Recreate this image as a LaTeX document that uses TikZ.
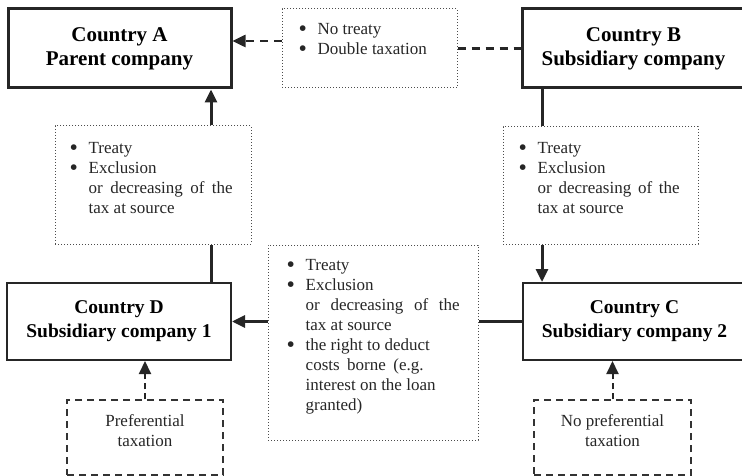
\documentclass[tikz,border=0pt]{standalone}
\usepackage{fontspec}
\setmainfont{Liberation Serif}
\usetikzlibrary{arrows.meta}
\newcommand{\ibul}{\makebox[19pt][l]{\smash{\raisebox{-1.5pt}{\scalebox{1.4}{\textbullet}}}}}
\newcommand{\iind}{\hspace*{19pt}}
\begin{document}
\begin{tikzpicture}[
    x=1pt,y=-1pt,
    every node/.style={font=\fontsize{17}{20}\selectfont},
    country/.style={draw=black!85, line width=3pt, minimum width=223pt, minimum height=79pt, align=center, font=\bfseries\fontsize{21}{24}\selectfont},
    subsid/.style={country, line width=2pt, minimum width=224pt, minimum height=77pt, font=\bfseries\fontsize{19.5}{24}\selectfont},
    note/.style={draw=black!70, dotted, line width=1pt},
    notetext/.style={anchor=north west, inner sep=0pt, align=left, text=black!85},
    pref/.style={draw=black!80, line width=1.5pt, dash pattern=on 7pt off 5pt},
    preftext/.style={anchor=north, inner sep=0pt, align=center, text=black!85},
    link/.style={draw=black!85, line width=3pt},
    tip/.style={-{Triangle[length=13pt,width=12pt]}}
]
    \path[use as bounding box, clip] (0,0) rectangle (742,476);

    \node[country] (A) at (119.5,48.5) {Country A\\Parent company};
    \node[country] (B) at (633.5,48.5) {Country B\\Subsidiary company};
    \node[subsid] (D) at (119,321.5) {Country D\\Subsidiary company 1};
    \node[subsid] (C) at (634.5,321.5) {Country C\\Subsidiary company 2};

    \node[note, minimum width=175, minimum height=79] (topnote) at (369.5,48.5) {};
    \node[note, minimum width=196, minimum height=118] (leftnote) at (153,185) {};
    \node[note, minimum width=195, minimum height=117] (rightnote) at (600.5,185.5) {};
    \node[note, minimum width=210, minimum height=195] (midnote) at (373,342.5) {};
    \node[pref, minimum width=156, minimum height=75] (prefD) at (145,437.5) {};
    \node[pref, minimum width=157, minimum height=75] (prefC) at (612.5,437.5) {};

    \node[notetext] (toptext) at ([shift={(17,15)}]topnote.north west)
        {\ibul No treaty\\ \ibul Double taxation};
    \node[notetext] (lefttext) at ([shift={(15,17)}]leftnote.north west)
        {\ibul Treaty\\ \ibul Exclusion\\ \iind\makebox[144pt][s]{or decreasing of the}\\ \iind tax at source};
    \node[notetext] (righttext) at ([shift={(16,16)}]rightnote.north west)
        {\ibul Treaty\\ \ibul Exclusion\\ \iind\makebox[142pt][s]{or decreasing of the}\\ \iind tax at source};
    \node[notetext] (midtext) at ([shift={(19,15)}]midnote.north west)
        {\ibul Treaty\\ \ibul Exclusion\\ \iind\makebox[154pt][s]{or decreasing of the}\\ \iind tax at source\\
         \ibul the right to deduct\\ \iind\makebox[118pt][s]{costs borne (e.g.}\\ \iind interest on the loan\\ \iind granted)};
    \node[preftext] (preftextD) at ([yshift=-15pt]prefD.north) {Preferential\\taxation};
    \node[preftext] (preftextC) at ([yshift=-15pt]prefC.north) {No preferential\\taxation};

    \coordinate (laneL) at (211,0);
    \coordinate (laneR) at (542,0);
    \coordinate (rowT) at (0,41);

    \draw[link, line width=2.5pt, dash pattern=on 8pt off 6pt, tip] (topnote.west |- rowT) -- (A.east |- rowT);
    \draw[link, line width=2.5pt, dash pattern=on 8pt off 6pt] (topnote.east) -- (B.west |- topnote.east);
    \draw[link, tip] (leftnote.north -| laneL) -- (A.south -| laneL);
    \draw[link] (D.north -| laneL) -- (leftnote.south -| laneL);
    \draw[link] (B.south -| laneR) -- (rightnote.north -| laneR);
    \draw[link, tip] (rightnote.south -| laneR) -- (C.north -| laneR);
    \draw[link, tip] (midnote.west |- D.east) -- (D.east);
    \draw[link] (C.west) -- (midnote.east |- C.west);
    \draw[link, line width=2pt, dash pattern=on 6pt off 4pt, tip] (prefD.north) -- (D.south -| prefD.north);
    \draw[link, line width=2pt, dash pattern=on 6pt off 4pt, tip] (prefC.north) -- (C.south -| prefC.north);
\end{tikzpicture}
\end{document}
